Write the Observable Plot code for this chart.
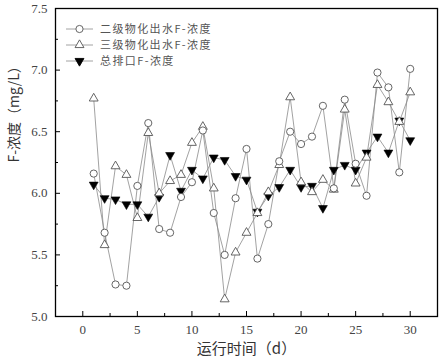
<!DOCTYPE html>
<html><head><meta charset="utf-8">
<script src="https://cdn.jsdelivr.net/npm/d3@7"></script>
<script src="https://cdn.jsdelivr.net/npm/@observablehq/plot@0.6"></script>
<style>
html,body{margin:0;padding:0;background:#fff;}
#wrap{position:relative;width:443px;height:363px;}
#legend{position:absolute;left:0;top:0;}
</style>
</head><body>
<div id="wrap"><div id="chart"></div><svg id="legend" width="230" height="75"></svg></div>
<script>
const days = [1,2,3,4,5,6,7,8,9,10,11,12,13,14,15,16,17,18,19,20,21,22,23,24,25,26,27,28,29,30];
const secondary = [6.16,5.68,5.26,5.25,6.06,6.57,5.71,5.68,5.97,6.09,6.51,5.84,5.50,5.96,6.36,5.47,5.75,6.26,6.50,6.40,6.46,6.71,6.04,6.76,6.24,5.98,6.98,6.86,6.17,7.01];
const tertiary = [6.77,5.58,6.22,6.15,5.80,6.49,6.00,6.10,6.15,6.41,6.54,6.04,5.14,5.52,5.68,5.84,6.01,6.23,6.78,6.09,6.01,6.11,6.03,6.68,6.08,6.29,6.88,6.74,6.58,6.82];
const outlet = [6.07,5.96,5.95,5.91,5.91,5.81,5.97,6.31,6.02,6.19,6.12,6.29,6.27,6.14,6.11,5.85,5.98,6.05,6.19,6.05,6.06,5.88,6.19,6.23,6.19,6.33,6.46,6.33,6.59,6.43];
const seriesNames = ["二级物化出水F-浓度","三级物化出水F-浓度","总排口F-浓度"];
const xTicks = [0,5,10,15,20,25,30];
const xMinor = [2.5,7.5,12.5,17.5,22.5,27.5];
const yTicks = [5.0,5.5,6.0,6.5,7.0,7.5];
const yMinor = [5.25,5.75,6.25,6.75,7.25];
const xLabel = "运行时间（d）";
const yLabel = "F-浓度（mg/L）";

const triangleDown = {
  draw(context, size) {
    const y = -Math.sqrt(size / (3 * Math.sqrt(3)));
    context.moveTo(0, -2 * y);
    context.lineTo(-Math.sqrt(3) * y, y);
    context.lineTo(Math.sqrt(3) * y, y);
    context.closePath();
  }
};

const rows = days.map((d, i) => ({d, s: secondary[i], t: tertiary[i], o: outlet[i]}));
const xDom = [-2.5, 32.5], yDom = [5, 7.5];
const H = 363, W = 443, mL = 55, mR = 6, mT = 8, mB = 47;
const pxX = (xDom[1]-xDom[0])/(W-mL-mR), pxY = (yDom[1]-yDom[0])/(H-mT-mB);
const serif = "'Liberation Serif','DejaVu Serif',serif";
const cjk = "'Noto Sans CJK SC','Noto Sans',sans-serif";
const lineC = "#8a8a8a", markC = "#555";

const chart = Plot.plot({
  width: W, height: H,
  marginLeft: mL, marginRight: mR, marginTop: mT, marginBottom: mB,
  x: {domain: xDom},
  y: {domain: yDom},
  style: {fontFamily: serif, background: "#fff"},
  marks: [
    Plot.axisX({ticks: xTicks, tickSize: 0, tickPadding: 8, fontSize: 13, label: null, fill: "#444", style: "letter-spacing:0.5px"}),
    Plot.axisY({ticks: yTicks, tickSize: 0, tickPadding: 8, fontSize: 13, label: null, tickFormat: d3.format(".1f"), fill: "#444", style: "letter-spacing:1.5px"}),
    Plot.ruleX(xTicks, {x: d => d, y1: yDom[0], y2: yDom[0] + 5*pxY, stroke: "#000", strokeWidth: 1}),
    Plot.ruleX(xMinor, {x: d => d, y1: yDom[0], y2: yDom[0] + 3*pxY, stroke: "#000", strokeWidth: 1}),
    Plot.ruleY(yTicks, {y: d => d, x1: xDom[0], x2: xDom[0] + 5*pxX, stroke: "#000", strokeWidth: 1}),
    Plot.ruleY(yMinor, {y: d => d, x1: xDom[0], x2: xDom[0] + 3*pxX, stroke: "#000", strokeWidth: 1}),
    Plot.line(rows, {x: "d", y: "s", stroke: lineC, strokeWidth: 0.8}),
    Plot.line(rows, {x: "d", y: "t", stroke: lineC, strokeWidth: 0.8}),
    Plot.line(rows, {x: "d", y: "o", stroke: lineC, strokeWidth: 0.8}),
    Plot.dot(rows, {x: "d", y: "o", symbol: triangleDown, r: 3.3, fill: "#000", stroke: "#000", strokeWidth: 0.6}),
    Plot.dot(rows, {x: "d", y: "t", symbol: "triangle", r: 3.3, fill: "#fff", stroke: markC, strokeWidth: 0.9}),
    Plot.dot(rows, {x: "d", y: "s", symbol: "circle", r: 3.6, fill: "#fff", stroke: markC, strokeWidth: 0.9}),
    Plot.frame({stroke: "#000", strokeWidth: 1.3}),
    Plot.text([xLabel], {text: d => d, frameAnchor: "bottom", dy: 37, fontSize: 15, fontFamily: cjk, fill: "#333"}),
    Plot.text([yLabel], {text: d => d, frameAnchor: "left", dx: -41, rotate: -90, fontSize: 14, fontFamily: cjk, fill: "#333"})
  ]
});
document.getElementById("chart").appendChild(chart);

// legend
const leg = d3.select("#legend");
const legY = [29, 45, 61];
const syms = [d3.symbolCircle, d3.symbolTriangle, triangleDown];
const sizes = [Math.PI*3.6*3.6, Math.PI*3.3*3.3, Math.PI*3.3*3.3];
const fills = ["#fff", "#fff", "#000"];
const strokes = [markC, markC, "#000"];
seriesNames.forEach((name, i) => {
  const g = leg.append("g").attr("transform", `translate(0,${legY[i]})`);
  g.append("line").attr("x1", 66).attr("x2", 93).attr("y1", 0).attr("y2", 0).attr("stroke", lineC).attr("stroke-width", 0.8);
  g.append("path").attr("d", d3.symbol(syms[i], sizes[i])()).attr("transform", "translate(79.5,0)")
    .attr("fill", fills[i]).attr("stroke", strokes[i]).attr("stroke-width", 0.9);
  g.append("text").attr("x", 100).attr("y", 0).attr("dy", "0.35em").attr("font-size", 11)
    .attr("letter-spacing", "1.4px").attr("font-family", cjk).attr("fill", "#555").text(name);
});
</script>
</body></html>
